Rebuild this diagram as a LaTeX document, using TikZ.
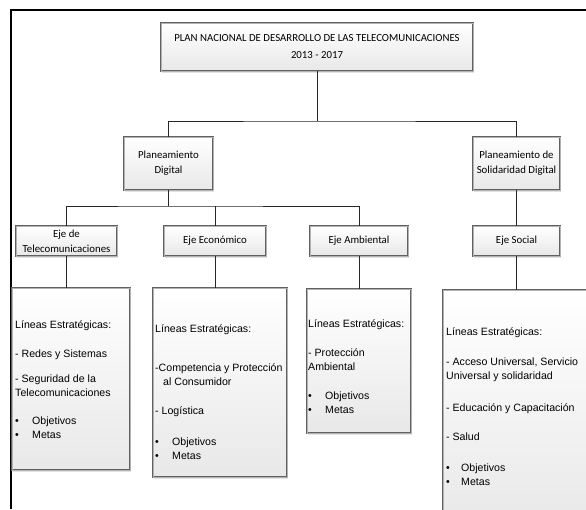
\documentclass[tikz,border=0pt]{standalone}
\usepackage{fontspec}
\setmainfont{Carlito}
\newfontfamily\arialf{Liberation Sans}
\usetikzlibrary{shadows}
\begin{document}
\begin{tikzpicture}[x=1pt,y=-1pt,
  box/.style={draw=black!62, double=black!30, double distance=0.9pt, line width=0.75pt,
    top color=white, bottom color=black!9,
    drop shadow={opacity=0.22, shadow xshift=1.2pt, shadow yshift=-2pt},
    inner sep=0pt, align=center, font=\fontsize{10.8}{15}\selectfont},
  conn/.style={draw=black!85, line width=0.7pt},
  lst/.style={anchor=north west, inner sep=0pt, align=left, font=\arialf\fontsize{10.6}{14}\selectfont},
  frame/.style={line width=2.2pt}
]
\useasboundingbox (0,0) rectangle (586,509);
\fill[white] (0,0) rectangle (586,509);

% outer frame
\draw[frame] (11,509) -- (11,10) -- (586,10);

% nodes
\node[box, minimum width=312pt, minimum height=48pt] (title) at (317,47)
  {PLAN NACIONAL DE DESARROLLO DE LAS TELECOMUNICACIONES\\[2pt]2013 - 2017};
\node[box, minimum width=89pt, minimum height=53pt] (pd) at (168.5,163.5) {Planeamiento\\Digital};
\node[box, minimum width=87pt, minimum height=53pt] (psd) at (516.5,163.5) {Planeamiento de\\Solidaridad Digital};

\node[box, minimum width=101pt, minimum height=30pt] (et) at (66.5,241) {Eje de\\Telecomunicaciones};
\node[box, minimum width=102pt, minimum height=30pt] (ee) at (215,241) {Eje Económico};
\node[box, minimum width=98pt, minimum height=30pt] (ea) at (359,241) {Eje Ambiental};
\node[box, minimum width=87pt, minimum height=30pt] (es) at (516.5,241) {Eje Social};

\node[box, minimum width=118pt, minimum height=182pt] (b1) at (71,379) {};
\node[box, minimum width=134pt, minimum height=189pt] (b2) at (220,382.5) {};
\node[box, minimum width=104pt, minimum height=144pt] (b3) at (359,361) {};
\node[box, minimum width=157pt, minimum height=240pt] (b4) at (521.5,410) {};

% texts of the lower boxes
\node[lst] (t1) at (15,320.5) {Líneas Estratégicas:\\[15pt]
- Redes y Sistemas\\[11pt]
- Seguridad de la\\
Telecomunicaciones\\[14pt]
\makebox[17pt][l]{•}Objetivos\\
\makebox[17pt][l]{•}Metas};

\node[lst] (t2) at (155,324.5) {Líneas Estratégicas:\\[25pt]
-Competencia y Protección\\
\hspace*{8pt}al Consumidor\\[15pt]
- Logística\\[17pt]
\makebox[17pt][l]{•}Objetivos\\
\makebox[17pt][l]{•}Metas};

\node[lst] (t3) at (308,319.5) {Líneas Estratégicas:\\[15pt]
- Protección\\
Ambiental\\[15pt]
\makebox[17pt][l]{•}Objetivos\\
\makebox[17pt][l]{•}Metas};

\node[lst] (t4) at (446,327.5) {Líneas Estratégicas:\\[16pt]
- Acceso Universal, Servicio\\
Universal y solidaridad\\[18pt]
- Educación y Capacitación\\[15pt]
- Salud\\[17pt]
\makebox[15pt][l]{•}Objetivos\\
\makebox[15pt][l]{•}Metas};

% connectors
\coordinate (j1) at (317,121);
\coordinate (j2) at (168.5,206);
\draw[conn] (title.south) -- (j1);
\draw[conn] (pd.north) |- (j1) -| (psd.north);
\draw[conn] (pd.south) -- (j2);
\draw[conn] (et.north) |- (j2) -| (ea.north);
\draw[conn] (ee.north) -- (ee.north |- j2);
\draw[conn] (psd.south) -- (es.north);
\draw[conn] (et.south) -- (et.south |- b1.north);
\draw[conn] (ee.south) -- (ee.south |- b2.north);
\draw[conn] (ea.south) -- (ea.south |- b3.north);
\draw[conn] (es.south) -- (es.south |- b4.north);
\end{tikzpicture}
\end{document}
